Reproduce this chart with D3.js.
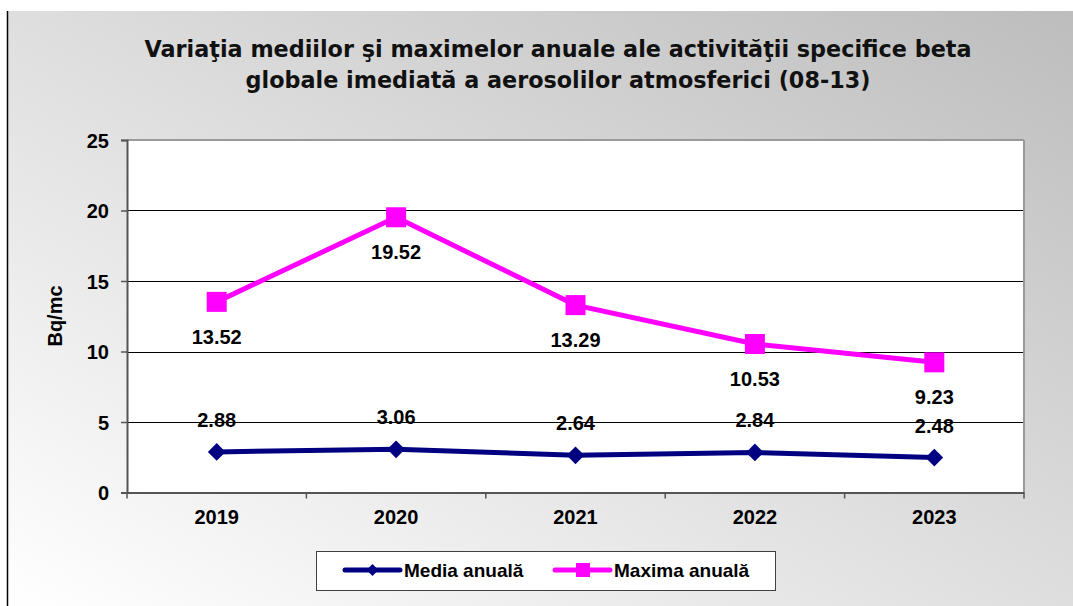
<!DOCTYPE html>
<html>
<head>
<meta charset="utf-8">
<script src="https://cdn.jsdelivr.net/npm/d3@7"></script>
<style>
  body { margin: 0; background: #fff; }
  text { font-family: "Liberation Sans", Arial, sans-serif; font-weight: bold; fill: #000; }
  .title { font-family: "DejaVu Sans", Tahoma, sans-serif; fill: #111; }
</style>
</head>
<body>
<div class="chart"></div>
<script>
// data
var years = ["2019", "2020", "2021", "2022", "2023"];
var media = [2.88, 3.06, 2.64, 2.84, 2.48];
var maxima = [13.52, 19.52, 13.29, 10.53, 9.23];
var yTicks = [0, 5, 10, 15, 20, 25];
var titleLines = ["Variaţia mediilor şi maximelor anuale ale activităţii specifice beta",
                  "globale imediată a aerosolilor atmosferici (08-13)"];
var yLabel = "Bq/mc";
var seriesNames = ["Media anuală", "Maxima anuală"];

var svgWidth = 1073, svgHeight = 606;
var plot = { left: 127, right: 1024, top: 140, bottom: 492.5 };

var svg = d3.select(".chart").append("svg")
    .attr("width", svgWidth)
    .attr("height", svgHeight);

// background gradient
var defs = svg.append("defs");
var grad = defs.append("linearGradient")
    .attr("id", "bg")
    .attr("x1", "0%").attr("y1", "100%")
    .attr("x2", "100%").attr("y2", "0%");
grad.append("stop").attr("offset", "0%").attr("stop-color", "#ffffff");
grad.append("stop").attr("offset", "100%").attr("stop-color", "#bdbdbd");

svg.append("rect")
    .attr("x", 7).attr("y", 11)
    .attr("width", svgWidth - 7).attr("height", svgHeight - 11)
    .attr("fill", "url(#bg)");
svg.append("line")
    .attr("x1", 7.5).attr("x2", 7.5)
    .attr("y1", 11).attr("y2", svgHeight)
    .attr("stroke", "#000").attr("stroke-width", 1.5);

// title
svg.selectAll(".title")
    .data(titleLines)
    .enter()
    .append("text")
    .attr("class", "title")
    .attr("x", 558)
    .attr("y", (d, i) => 57 + i * 31)
    .attr("text-anchor", "middle")
    .style("font-size", "22.3px")
    .text(d => d);

// scales
var x = d3.scaleBand()
    .domain(years)
    .range([plot.left, plot.right])
    .paddingInner(0).paddingOuter(0);
var y = d3.scaleLinear()
    .domain([0, 25])
    .range([plot.bottom, plot.top]);
var cx = d => x(d) + x.bandwidth() / 2;

// plot area
svg.append("rect")
    .attr("x", plot.left).attr("y", plot.top)
    .attr("width", plot.right - plot.left)
    .attr("height", plot.bottom - plot.top)
    .attr("fill", "#fff");

// gridlines
svg.append("g")
    .selectAll("line")
    .data(yTicks.slice(1, -1))
    .enter()
    .append("line")
    .attr("x1", plot.left).attr("x2", plot.right)
    .attr("y1", d => Math.round(y(d)) + 0.5)
    .attr("y2", d => Math.round(y(d)) + 0.5)
    .attr("stroke", "#000").attr("stroke-width", 1);

// plot border
svg.append("line").attr("x1", plot.left).attr("x2", plot.right)
    .attr("y1", plot.top).attr("y2", plot.top)
    .attr("stroke", "#9a9a9a").attr("stroke-width", 2);
svg.append("line").attr("x1", plot.right).attr("x2", plot.right)
    .attr("y1", plot.top).attr("y2", plot.bottom)
    .attr("stroke", "#9a9a9a").attr("stroke-width", 2);

// y axis
var yAxis = d3.axisLeft(y).tickValues(yTicks).tickSize(6).tickPadding(12);
var gy = svg.append("g")
    .attr("transform", `translate(${plot.left},0)`)
    .call(yAxis);
gy.select(".domain").attr("stroke", "#555").attr("stroke-width", 2);
gy.selectAll(".tick line").attr("stroke", "#555").attr("stroke-width", 1.5);
gy.selectAll(".tick text")
    .style("font-size", "20px")
    .style("font-family", "'Liberation Sans', Arial, sans-serif")
    .attr("dy", "0.36em");

// x axis
var xAxis = d3.axisBottom(x).tickSize(0).tickPadding(17);
var gx = svg.append("g")
    .attr("transform", `translate(0,${plot.bottom})`)
    .call(xAxis);
gx.select(".domain").attr("stroke", "#555").attr("stroke-width", 2);
gx.selectAll(".tick text")
    .style("font-size", "20px")
    .style("font-family", "'Liberation Sans', Arial, sans-serif");
// category boundary ticks
gx.selectAll(".bound")
    .data(years.concat(["end"]))
    .enter()
    .append("line")
    .attr("class", "bound")
    .attr("x1", (d, i) => i < years.length ? x(d) : plot.right)
    .attr("x2", (d, i) => i < years.length ? x(d) : plot.right)
    .attr("y1", 0).attr("y2", 6)
    .attr("stroke", "#555").attr("stroke-width", 1.5);

// y axis label
svg.append("text")
    .attr("transform", `translate(62, 316) rotate(-90)`)
    .attr("text-anchor", "middle")
    .style("font-size", "20px")
    .text(yLabel);

// lines
var line = d3.line()
    .x((d, i) => cx(years[i]))
    .y(d => y(d));

svg.append("path")
    .datum(maxima)
    .attr("d", line)
    .attr("fill", "none")
    .attr("stroke", "#ff00ff")
    .attr("stroke-width", 5);

svg.append("path")
    .datum(media)
    .attr("d", line)
    .attr("fill", "none")
    .attr("stroke", "#000080")
    .attr("stroke-width", 5);

// markers
svg.selectAll(".sq")
    .data(maxima)
    .enter()
    .append("rect")
    .attr("class", "sq")
    .attr("x", (d, i) => cx(years[i]) - 10)
    .attr("y", d => y(d) - 10)
    .attr("width", 20).attr("height", 20)
    .attr("fill", "#ff00ff");

var diamond = d3.symbol().type(d3.symbolDiamond2).size(200);
svg.selectAll(".dm")
    .data(media)
    .enter()
    .append("path")
    .attr("class", "dm")
    .attr("d", diamond)
    .attr("transform", (d, i) => `translate(${cx(years[i])},${y(d)})`)
    .attr("fill", "#000080");

// data labels
svg.selectAll(".lblMax")
    .data(maxima)
    .enter()
    .append("text")
    .attr("x", (d, i) => cx(years[i]))
    .attr("y", d => y(d) + 42)
    .attr("text-anchor", "middle")
    .style("font-size", "20px")
    .text(d => d.toFixed(2));

svg.selectAll(".lblMed")
    .data(media)
    .enter()
    .append("text")
    .attr("x", (d, i) => cx(years[i]))
    .attr("y", d => y(d) - 25)
    .attr("text-anchor", "middle")
    .style("font-size", "20px")
    .text(d => d.toFixed(2));

// legend
var legend = svg.append("g");
legend.append("rect")
    .attr("x", 316.5).attr("y", 551.5)
    .attr("width", 459).attr("height", 39)
    .attr("fill", "#fff")
    .attr("stroke", "#404040").attr("stroke-width", 1);

var legItems = [
    { name: seriesNames[0], color: "#000080", x0: 345, type: "diamond" },
    { name: seriesNames[1], color: "#ff00ff", x0: 555, type: "square" }
];
legItems.forEach(function (it) {
    legend.append("line")
        .attr("x1", it.x0).attr("x2", it.x0 + 55)
        .attr("y1", 570).attr("y2", 570)
        .attr("stroke", it.color).attr("stroke-width", 5)
        .attr("stroke-linecap", "round");
    if (it.type === "square") {
        legend.append("rect")
            .attr("x", it.x0 + 21).attr("y", 563)
            .attr("width", 14).attr("height", 14)
            .attr("fill", it.color);
    } else {
        legend.append("path")
            .attr("d", d3.symbol().type(d3.symbolDiamond2).size(90))
            .attr("transform", `translate(${it.x0 + 27.5},570)`)
            .attr("fill", it.color);
    }
    legend.append("text")
        .attr("x", it.x0 + 59)
        .attr("y", 577)
        .style("font-size", "19px")
        .text(it.name);
});
</script>
</body>
</html>
